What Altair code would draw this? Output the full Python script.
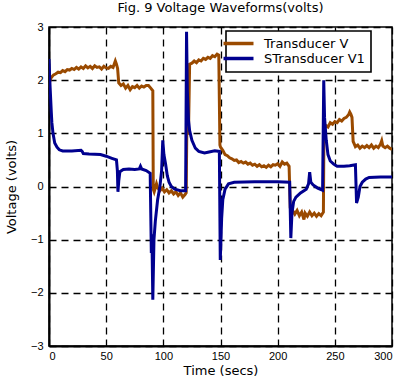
import altair as alt
import pandas as pd

series_names = ["Transducer V", "STransducer V1"]
series_colors = ["#9A4A00", "#00008F"]

brown_t = [0, 1, 2, 4, 6, 8, 10, 12, 14, 16, 18, 20, 22, 24, 26, 28, 30, 32, 34, 36, 38, 40,
           42, 44, 46, 48, 50, 52, 54, 56, 58, 59, 60, 61, 63, 65, 67, 69, 71, 73, 75, 77, 79,
           81, 83, 85, 87, 89, 90.8, 91.2, 92, 94, 95, 97, 99, 101, 103, 105, 107, 109, 111,
           113, 115, 117, 119, 120, 120.5, 122, 123, 125, 127, 129, 131, 133, 135, 137, 139,
           141, 143, 145, 147, 148.5, 149.5, 150, 152, 154, 156, 158, 160, 162, 164, 166, 168,
           170, 172, 174, 176, 178, 180, 182, 184, 186, 188, 190, 192, 194, 196, 198, 200, 202,
           204, 206, 208, 210, 211, 213, 215, 217, 219, 221, 223, 224, 226, 228, 230, 232, 234,
           236, 238, 240, 240.5, 242, 244, 246, 248, 250, 252, 254, 256, 258, 260, 262, 263,
           264, 265, 266, 268, 270, 272, 274, 276, 278, 280, 282, 284, 286, 288, 290, 291, 292,
           294, 296, 298, 300]
brown_v = [1.92, 2.0, 2.05, 2.1, 2.12, 2.15, 2.14, 2.18, 2.16, 2.2, 2.19, 2.22, 2.2, 2.24, 2.21,
           2.25, 2.22, 2.27, 2.23, 2.26, 2.22, 2.27, 2.24, 2.25, 2.21, 2.26, 2.23, 2.22, 2.26,
           2.24, 2.36, 2.3, 2.22, 1.95, 1.9, 1.93, 1.85, 1.9, 1.82, 1.88, 1.86, 1.9, 1.85, 1.89,
           1.87, 1.9, 1.9, 1.85, 1.8, -0.05, -0.1, 0.05, -0.02, -0.08, -0.03, -0.1, -0.06, -0.12,
           -0.08, -0.14, -0.1, -0.17, -0.12, -0.2, -0.15, -0.12, 1.0, 1.0, 2.3, 2.32, 2.36, 2.33,
           2.38, 2.36, 2.41, 2.39, 2.43, 2.41, 2.46, 2.44, 2.49, 2.47, 0.78, 0.74, 0.68, 0.6,
           0.58, 0.54, 0.52, 0.49, 0.5, 0.45, 0.47, 0.44, 0.46, 0.42, 0.44, 0.4, 0.42, 0.38,
           0.41, 0.37, 0.39, 0.36, 0.4, 0.37, 0.41, 0.4, 0.43, 0.38, 0.46, 0.42, 0.44, 0.38,
           -0.4, -0.45, -0.52, -0.45, -0.55, -0.48, -0.62, -0.5, -0.56, -0.48, -0.55, -0.5,
           -0.56, -0.51, -0.55, -0.48, 1.12, 1.15, 1.12, 1.2, 1.17, 1.22, 1.2, 1.26, 1.23, 1.28,
           1.3, 1.35, 1.4, 1.36, 1.3, 0.85, 0.75, 0.78, 0.72, 0.76, 0.73, 0.77, 0.73, 0.78, 0.72,
           0.76, 0.73, 0.8, 0.86, 0.76, 0.73, 0.76, 0.72, 0.7]

blue_t = [0, 0.5, 1, 2, 2.5, 3.5, 5, 7, 9, 12, 20, 28, 29, 30, 35, 45, 50, 55, 59, 59.8, 60.3,
          61, 62, 65, 70, 75, 79, 80, 81, 85, 88.5, 89.5, 90, 90.8, 91.8, 93, 95, 97, 98.5,
          99.5, 100.5, 102, 103.5, 105, 107, 110, 115, 119.5, 120.3, 121, 122, 123, 125, 128,
          131, 136, 140, 145, 149, 149.8, 151, 152, 154, 157, 162, 180, 200, 210.5, 211.5,
          212.5, 214, 216, 220, 225, 227, 228, 229, 231, 235, 239.3, 240.3, 241, 242.5, 244,
          246, 249, 252, 258, 263, 268, 269, 270.5, 272, 274, 277, 280, 290, 300]
blue_v = [2.4, 2.1, 1.85, 1.4, 1.2, 1.0, 0.82, 0.74, 0.69, 0.67, 0.67, 0.68, 0.66, 0.62, 0.61,
          0.6, 0.57, 0.53, 0.5, 0.3, -0.1, 0.1, 0.28, 0.32, 0.33, 0.32, 0.33, 0.38, 0.33, 0.3,
          0.25, -1.25, -0.9, -2.13, -1.0, -0.65, -0.25, 0.0, 0.3, 0.87, 0.6, 0.42, 0.2, 0.08,
          0.0, -0.05, -0.08, -0.08, 2.91, 1.8, 1.25, 1.05, 0.87, 0.72, 0.66, 0.63, 0.65, 0.67,
          0.66, -1.38, -0.6, -0.25, -0.05, 0.05, 0.08, 0.09, 0.09, 0.08, -0.97, -0.5, -0.28,
          -0.2, -0.12, -0.05, 0.05, 0.27, 0.08, 0.03, -0.03, -0.07, 2.0, 1.3, 0.87, 0.6, 0.48,
          0.42, 0.38, 0.38, 0.39, 0.41, -0.31, -0.2, 0.0, 0.08, 0.14, 0.17, 0.18, 0.18]

x_ticks = [0, 50, 100, 150, 200, 250, 300]
y_ticks = [-3, -2, -1, 0, 1, 2, 3]

df = pd.concat([
    pd.DataFrame({"t": brown_t, "v": brown_v, "series": series_names[0],
                  "k": list(range(len(brown_t)))}),
    pd.DataFrame({"t": blue_t, "v": blue_v, "series": series_names[1],
                  "k": list(range(len(blue_t)))}),
], ignore_index=True)

color = alt.Color(
    "series:N",
    scale=alt.Scale(domain=series_names, range=series_colors),
    legend=alt.Legend(
        title=None, orient="none", legendX=177, legendY=4,
        symbolType="M-3.75,0H3.75", symbolSize=64, symbolStrokeWidth=3.5,
        labelFont="DejaVu Sans", labelFontSize=13, labelColor="black",
        padding=6, cornerRadius=0, rowPadding=0, labelOffset=19,
    ),
)

x = alt.X("t:Q", scale=alt.Scale(domain=[0, 300], nice=False),
          axis=alt.Axis(values=x_ticks, title="Time (secs)", labelPadding=4, titlePadding=3))
y = alt.Y("v:Q", scale=alt.Scale(domain=[-3, 3], nice=False),
          axis=alt.Axis(values=y_ticks, title="Voltage (volts)", labelPadding=6, titlePadding=12))

base = alt.Chart(df).mark_line(strokeWidth=3, clip=True).encode(x=x, y=y, color=color, order="k:Q")
brown = base.transform_filter(alt.datum.series == series_names[0])
blue = base.transform_filter(alt.datum.series == series_names[1])

chart = alt.layer(brown, blue).properties(
    width=343, height=319,
    title=alt.TitleParams("Fig. 9 Voltage Waveforms(volts)", font="DejaVu Sans", fontSize=13,
                          fontWeight="normal", color="black", offset=6),
    autosize=alt.AutoSizeParams(type="none"),
    padding={"left": 49, "top": 27, "right": 14, "bottom": 37},
).configure_view(stroke="black", strokeWidth=1.5).configure_axis(
    grid=True, gridColor="black", gridDash=[7, 5], gridWidth=1.3, gridOpacity=1,
    domainColor="black", domainWidth=2, ticks=False,
    labelFont="Liberation Sans", labelFontSize=11, labelColor="black",
    titleFont="DejaVu Sans", titleFontSize=13, titleFontWeight="normal", titleColor="black",
).configure_legend(strokeColor="#000000", strokeWidth=1.6, fillColor="#FFFFFF")

chart.save("out.html", embed_options={"renderer": "svg", "actions": False})
